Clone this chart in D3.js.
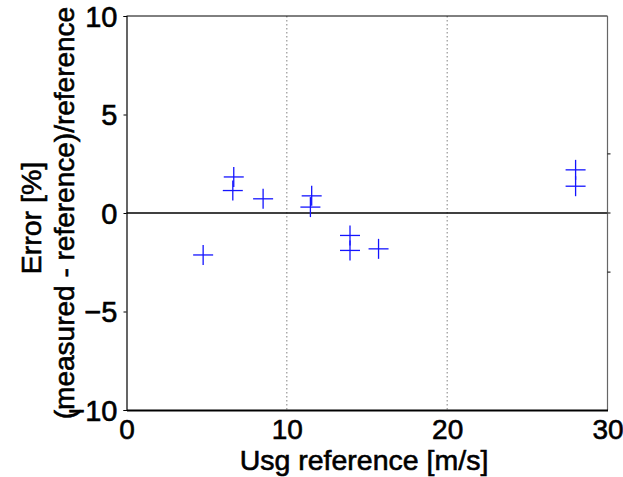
<!DOCTYPE html>
<html>
<head>
<meta charset="utf-8">
<script src="https://cdn.jsdelivr.net/npm/d3@7"></script>
<style>
  html, body { margin: 0; padding: 0; background: #fff; }
  svg { display: block; }
  text { font-family: "Liberation Sans", Arial, sans-serif; fill: #000; stroke: #000; stroke-width: 0.6px; }
</style>
</head>
<body>
<svg id="chart" width="623" height="477"></svg>
<script>
// ---- data ----
const usgRef = [6.69, 6.63, 8.52, 4.78, 11.55, 11.47, 13.94, 13.94, 15.72, 28.01, 28.01];   // m/s
const errPct = [1.83, 1.14, 0.72, -2.13, 0.87, 0.30, -1.14, -1.90, -1.82, 2.19, 1.36];      // %
const xTicks = [0, 10, 20, 30];
const yTicks = [10, 5, 0, -5, -10];
const xGrid = [10, 20];
const rightTicks = [3, 0, -3];
const xTitle = "Usg reference [m/s]";
const yTitle1 = "Error [%]";
const yTitle2 = "(measured - reference)/reference";

// ---- layout ----
const svg = d3.select("#chart");
const x = d3.scaleLinear().domain([0, 30]).range([126.5, 607.5]);
const y = d3.scaleLinear().domain([-10, 10]).range([410, 16]);
const [x0, x1] = x.range();
const [yB, yT] = y.range();

// dotted vertical grid
svg.append("g").selectAll("line").data(xGrid).join("line")
  .attr("x1", d => x(d)).attr("x2", d => x(d))
  .attr("y1", yT).attr("y2", yB)
  .attr("stroke", "#808080").attr("stroke-width", 1)
  .attr("stroke-dasharray", "1.5,2.5");

// zero line
svg.append("line")
  .attr("x1", x0).attr("x2", x1).attr("y1", y(0)).attr("y2", y(0))
  .attr("stroke", "#000").attr("stroke-width", 1.6);

// box
svg.append("line").attr("x1", x0).attr("x2", x1).attr("y1", yT).attr("y2", yT)
  .attr("stroke", "#000").attr("stroke-width", 1);
svg.append("line").attr("x1", x1).attr("x2", x1).attr("y1", yT).attr("y2", yB)
  .attr("stroke", "#666").attr("stroke-width", 1.2);

// left axis
const yAxis = d3.axisLeft(y).tickValues(yTicks).tickSize(3).tickPadding(6).tickFormat(d3.format("d"));
const gy = svg.append("g").attr("transform", `translate(${x0},0)`).call(yAxis);
gy.select(".domain").attr("stroke", "#000").attr("stroke-width", 1.2);
gy.selectAll(".tick line").attr("stroke", "#000");
gy.selectAll(".tick text")
  .style("font-family", "'Liberation Sans', Arial, sans-serif")
  .style("font-size", "29px").attr("fill", "#000").attr("dy", "0.36em");

// right ticks
svg.append("g").selectAll("line").data(rightTicks).join("line")
  .attr("x1", x1).attr("x2", x1 + 3).attr("y1", d => y(d)).attr("y2", d => y(d))
  .attr("stroke", "#000").attr("stroke-width", 1);

// bottom axis
const xAxis = d3.axisBottom(x).tickValues(xTicks).tickSize(0).tickPadding(9).tickFormat(d3.format("d"));
const gx = svg.append("g").attr("transform", `translate(0,${yB})`).call(xAxis);
gx.select(".domain").attr("stroke", "#000").attr("stroke-width", 2.2);
gx.selectAll(".tick text")
  .style("font-family", "'Liberation Sans', Arial, sans-serif")
  .style("font-size", "28px").attr("fill", "#000");

// axis titles
svg.append("text").attr("x", (x0 + x1) / 2 - 3).attr("y", 470)
  .attr("text-anchor", "middle").style("font-size", "28.5px").text(xTitle);
svg.append("text")
  .attr("transform", `translate(41,${(yT + yB) / 2 + 5}) rotate(-90)`)
  .attr("text-anchor", "middle").style("font-size", "28.5px").text(yTitle1);
svg.append("text")
  .attr("transform", `translate(74,${(yT + yB) / 2}) rotate(-90)`)
  .attr("text-anchor", "middle").style("font-size", "28px").text(yTitle2);

// '+' markers
const half = 10;
const pts = usgRef.map((u, i) => ({ u, e: errPct[i] }));
const g = svg.append("g").attr("stroke", "#1414ff").attr("stroke-width", 1.3);
g.selectAll("line.h").data(pts).join("line").attr("class", "h")
  .attr("x1", d => x(d.u) - half).attr("x2", d => x(d.u) + half)
  .attr("y1", d => y(d.e)).attr("y2", d => y(d.e));
g.selectAll("line.v").data(pts).join("line").attr("class", "v")
  .attr("x1", d => x(d.u)).attr("x2", d => x(d.u))
  .attr("y1", d => y(d.e) - half).attr("y2", d => y(d.e) + half);
</script>
</body>
</html>
